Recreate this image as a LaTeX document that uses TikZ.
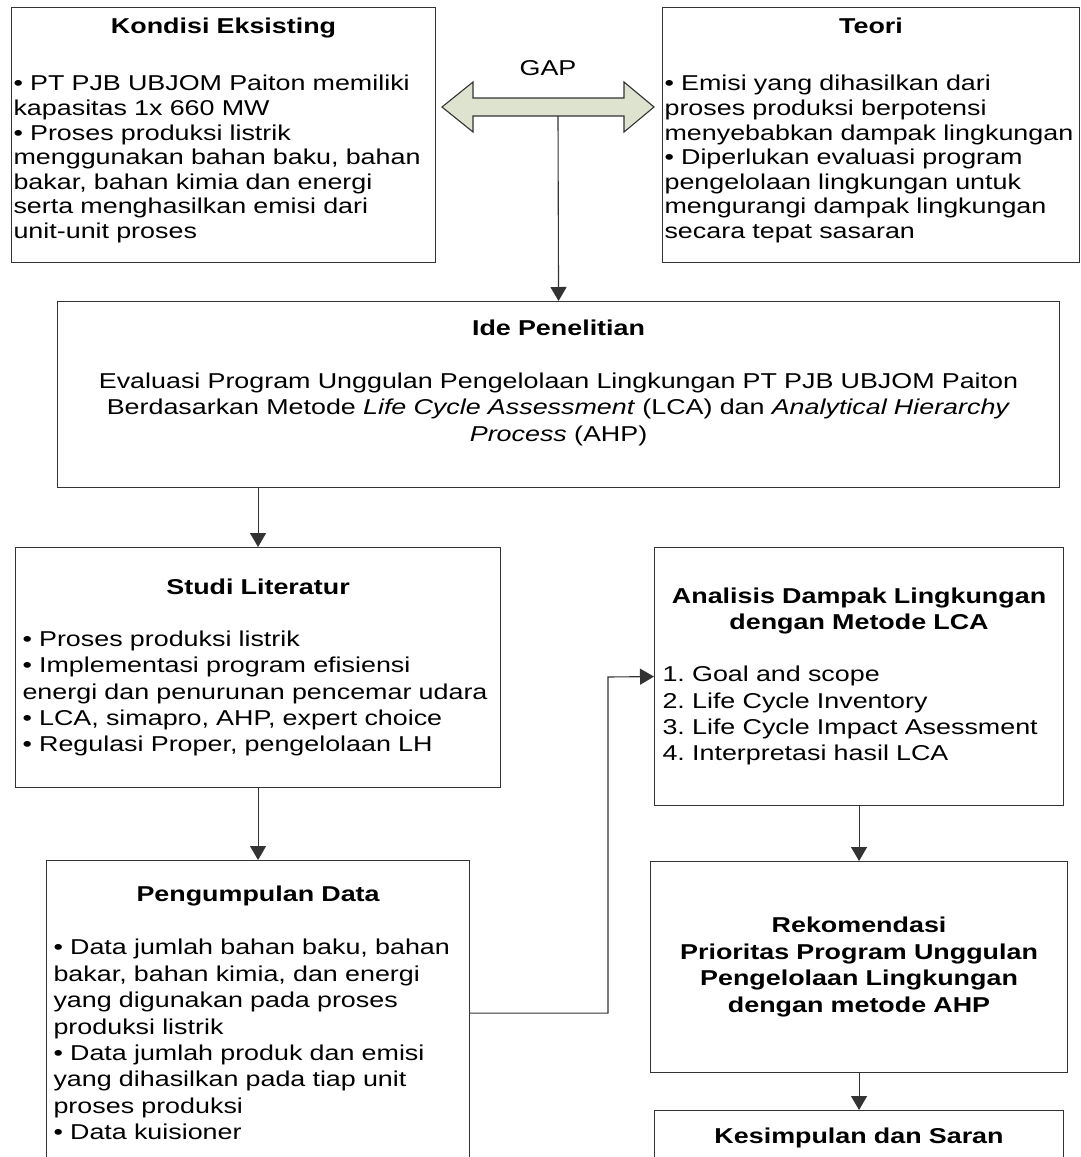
\documentclass[tikz,border=0pt]{standalone}
\usepackage{fontspec}
\setmainfont[FakeStretch=1.25]{Liberation Sans}
\usetikzlibrary{arrows.meta}
\colorlet{garis}{black!80}
\definecolor{isigap}{RGB}{222,227,207}
\newcommand\judul[2][26pt]{{\centering\bfseries #2\par}\vspace{#1}}
\newcommand\ekor[1]{\rule[-#1]{0pt}{#1}}
\tikzstyle{kotak}=[draw=garis,line width=1.1pt,rectangle,anchor=north west,inner ysep=0pt,align=left,font=\fontsize{21.5}{26.4}\selectfont]
\tikzstyle{atas}=[font=\fontsize{21.5}{24.6}\selectfont,inner xsep=2pt]
\tikzstyle{panah}=[draw=garis,line width=1.1pt,-{Triangle[length=14pt,width=16pt]}]
\frenchspacing

\begin{document}
\begin{tikzpicture}[x=1pt,y=-1pt]
	\useasboundingbox[fill=white] (0,0) rectangle (1081,1157);
	% baris atas
	\node[kotak,atas,text width=420pt,minimum width=424pt,minimum height=255pt] (kondisi) at (11,7) {\judul[33pt]{Kondisi Eksisting}%
	  • PT PJB UBJOM Paiton memiliki\\ kapasitas 1x 660 MW\\ • Proses produksi listrik\\ menggunakan bahan baku, bahan\\ bakar, bahan kimia dan energi\\ serta menghasilkan emisi dari\\ unit-unit proses\ekor{14pt}};
	\node[kotak,atas,text width=413pt,minimum width=417pt,minimum height=255pt] (teori) at (662,7) {\judul[33pt]{Teori}%
	  • Emisi yang dihasilkan dari\\ proses produksi berpotensi\\ menyebabkan dampak lingkungan\\ • Diperlukan evaluasi program\\ pengelolaan lingkungan untuk\\ mengurangi dampak lingkungan\\ secara tepat sasaran\ekor{14pt}};
	% panah GAP
	\node[font=\fontsize{21.5}{26}\selectfont] (gapjudul) at (548,68) {GAP};
	\draw[draw=garis,fill=isigap,line width=1.1pt] (442,107) -- (473,82) -- (473,98) -- (624,98) -- (624,82)
	  -- (654,107) -- (624,132) -- (624,116) -- (473,116) -- (473,132) -- cycle;
	\coordinate (gap) at (558,116);
	% ide
	\node[kotak,align=center,inner xsep=6pt,text width=990pt,minimum width=1002pt,minimum height=186pt] (ide) at (57,301) {\judul[26.5pt]{Ide Penelitian}%
	  Evaluasi Program Unggulan Pengelolaan Lingkungan PT PJB UBJOM Paiton\\ Berdasarkan Metode \textit{Life Cycle Assessment} (LCA) dan \textit{Analytical Hierarchy}\\ \textit{Process} (AHP)\ekor{28pt}};
	% kolom kiri
	\node[kotak,inner xsep=7pt,text width=471pt,minimum width=485pt,minimum height=240pt] (studi) at (15,547) {\judul[25.7pt]{Studi Literatur}%
	  • Proses produksi listrik\\ • Implementasi program efisiensi\\ energi dan penurunan pencemar udara\\ • LCA, simapro, AHP, expert choice\\ • Regulasi Proper, pengelolaan LH};
	\node[kotak,inner xsep=7pt,text width=409pt,minimum width=423pt,minimum height=305pt] (kumpul) at (46,860) {\judul[26.6pt]{Pengumpulan Data}%
	  • Data jumlah bahan baku, bahan\\ bakar, bahan kimia, dan energi\\ yang digunakan pada proses\\ produksi listrik\\ • Data jumlah produk dan emisi\\ yang dihasilkan pada tiap unit\\ proses produksi\\ • Data kuisioner};
	% kolom kanan
	\node[kotak,inner xsep=8pt,text width=393pt,minimum width=409pt,minimum height=258pt] (analisis) at (654,547) {\judul[25.5pt]{Analisis Dampak Lingkungan\\ dengan Metode LCA}%
	  1. Goal and scope\\ 2. Life Cycle Inventory\\ 3. Life Cycle Impact Asessment\\ 4. Interpretasi hasil LCA};
	\node[kotak,align=center,inner xsep=6pt,text width=405pt,minimum width=417pt,minimum height=211pt,font=\fontsize{21.5}{26.7}\selectfont\bfseries] (rekom) at (650,861) {Rekomendasi\\ Prioritas Program Unggulan\\ Pengelolaan Lingkungan\\ dengan metode AHP};
	\node[kotak,align=center,inner xsep=6pt,text width=397pt,minimum width=409pt,minimum height=90pt,font=\fontsize{21.5}{26.4}\selectfont\bfseries] (simpulan) at (654,1110) {Kesimpulan dan Saran\ekor{39pt}};
	% panah
	\coordinate (belok) at (608,677);
	\draw[panah] (gap) -- (ide.north);
	\draw[panah] (ide.south -| studi.north) -- (studi.north);
	\draw[panah] (studi) -- (kumpul);
	\draw[panah] (kumpul.east) -| (belok) -- (analisis.west);
	\draw[panah] (analisis) -- (rekom);
	\draw[panah] (rekom) -- (simpulan);
\end{tikzpicture}
\end{document}
